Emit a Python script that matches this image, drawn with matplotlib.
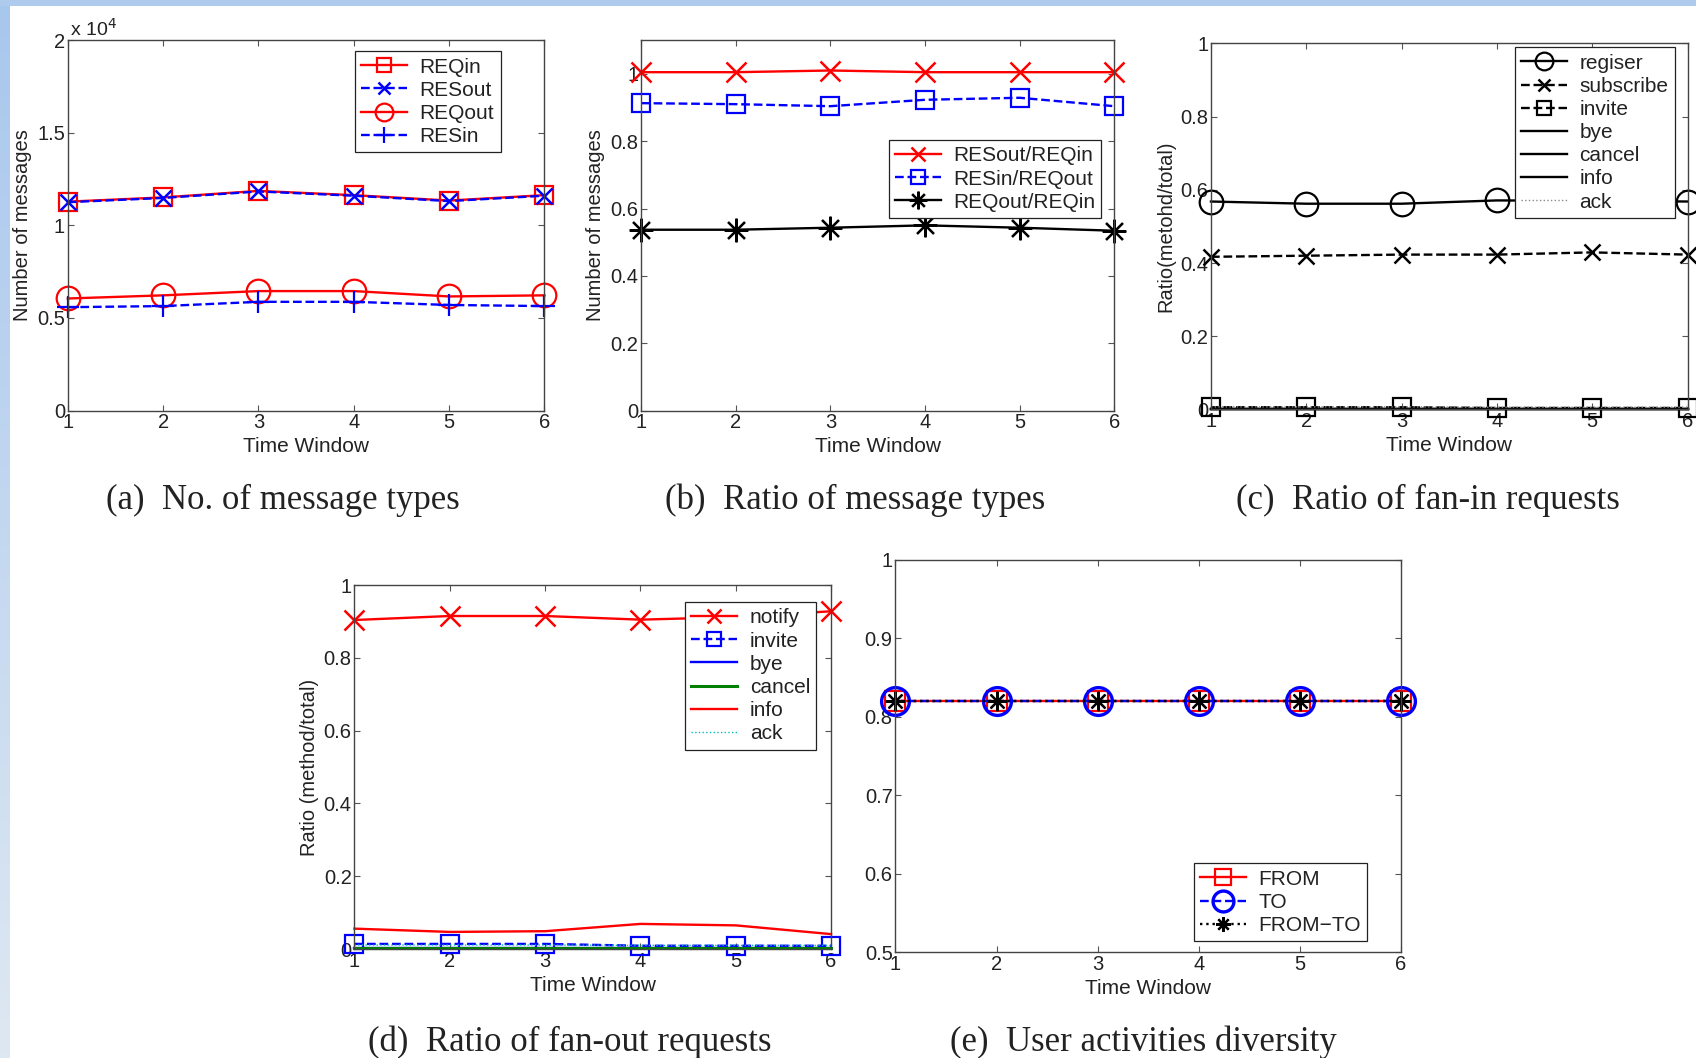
import numpy as np
import matplotlib
matplotlib.use("Agg")
import matplotlib.pyplot as plt
from matplotlib.ticker import FuncFormatter

plt.rcParams["font.family"] = ["Liberation Sans", "DejaVu Sans"]

windows = [1, 2, 3, 4, 5, 6]

# (a) number of message types (counts)
req_in = [11280, 11510, 11860, 11630, 11340, 11630]
res_out = [11250, 11480, 11830, 11600, 11310, 11600]
req_out = [6050, 6220, 6450, 6450, 6160, 6220]
res_in = [5580, 5640, 5870, 5870, 5700, 5640]

# (b) ratio of message types
resout_reqin = [1.005, 1.005, 1.01, 1.005, 1.005, 1.005]
resin_reqout = [0.913, 0.910, 0.904, 0.923, 0.929, 0.904]
reqout_reqin = [0.537, 0.537, 0.543, 0.550, 0.543, 0.534]

# (c) ratio of fan-in requests
fin_register = [0.568, 0.562, 0.562, 0.571, 0.570, 0.568]
fin_subscribe = [0.417, 0.420, 0.423, 0.423, 0.429, 0.423]
fin_invite = [0.006, 0.006, 0.006, 0.004, 0.004, 0.004]
fin_bye = [0.002, 0.002, 0.002, 0.002, 0.002, 0.002]
fin_cancel = [0.001, 0.001, 0.001, 0.001, 0.001, 0.001]
fin_info = [0.002, 0.002, 0.002, 0.002, 0.002, 0.002]
fin_ack = [0.007, 0.007, 0.007, 0.006, 0.006, 0.006]

# (d) ratio of fan-out requests
fout_notify = [0.904, 0.915, 0.915, 0.905, 0.912, 0.928]
fout_invite = [0.014, 0.014, 0.014, 0.009, 0.009, 0.009]
fout_bye = [0.004, 0.004, 0.004, 0.004, 0.004, 0.004]
fout_cancel = [0.002, 0.002, 0.002, 0.002, 0.002, 0.002]
fout_info = [0.056, 0.047, 0.049, 0.069, 0.065, 0.041]
fout_ack = [0.011, 0.011, 0.011, 0.010, 0.010, 0.010]

# (e) user activities diversity
div_from = [0.82, 0.82, 0.82, 0.82, 0.82, 0.82]
div_to = [0.82, 0.82, 0.82, 0.82, 0.82, 0.82]
div_from_to = [0.82, 0.82, 0.82, 0.82, 0.82, 0.82]

RED = "#ff0000"
BLUE = "#0000ff"
GREEN = "#008000"
CYAN = "#00bfbf"
ASTERISK = (8, 2, 0)

fig = plt.figure(figsize=(16.96, 10.58), dpi=100)

# slide background strips
bg = fig.add_axes([0, 0, 1, 1], zorder=-10)
bg.set_xlim(0, 1696)
bg.set_ylim(1058, 0)
bg.axis("off")
grad = np.linspace(0, 1, 256).reshape(-1, 1)
top_c = np.array([0.66, 0.78, 0.93])
bot_c = np.array([0.87, 0.91, 0.95])
strip = top_c[None, None, :] * (1 - grad[:, :, None]) + bot_c[None, None, :] * grad[:, :, None]
bg.imshow(strip, extent=(0, 10, 1058, 0), aspect="auto")
bg.fill_between([0, 1696], 0, 6, color="#aecbee", lw=0)


def style_axes(ax, xlabel="Time Window", ylabel=None):
    ax.set_xlim(1, 6)
    ax.set_xticks(windows)
    ax.tick_params(direction="in", top=True, right=True, length=4,
                   labelsize=14.5, pad=2, color="#555555", labelcolor="#222222")
    for s in ax.spines.values():
        s.set_color("#444444")
        s.set_linewidth(1.0)
    ax.set_xlabel(xlabel, fontsize=15, labelpad=3.5, color="#222222")
    if ylabel:
        ax.set_ylabel(ylabel, fontsize=14.5, labelpad=3.5, color="#222222")


def legend(ax, loc, anchor):
    leg = ax.legend(loc=loc, bbox_to_anchor=anchor, fancybox=False,
                    edgecolor="#222222", framealpha=1, fontsize=15,
                    handlelength=2.2, labelspacing=0.2, borderpad=0.3,
                    handletextpad=0.6, borderaxespad=0, markerscale=0.75)
    leg.get_frame().set_linewidth(0.9)
    for t in leg.get_texts():
        t.set_color("#222222")
    return leg


def caption(x, y, text):
    fig.text(x, y, text, ha="center", va="center", fontsize=25,
             family=["Liberation Serif", "DejaVu Serif"], color="#222222")


# (a)
ax = fig.add_axes([0.040, 0.612, 0.281, 0.350])
kw = dict(lw=1.7, clip_on=False)
ax.plot(windows, req_in, "-s", color=RED, ms=13, mfc="none", mew=1.6, label="REQin", **kw)
ax.plot(windows, res_out, "--x", color=BLUE, ms=12, mew=1.8, label="RESout", **kw)
ax.plot(windows, req_out, "-o", color=RED, ms=17, mfc="none", mew=1.6, label="REQout", **kw)
ax.plot(windows, res_in, "--+", color=BLUE, ms=16, mew=1.6, label="RESin", **kw)
ax.set_ylim(0, 20000)
ax.set_yticks([0, 5000, 10000, 15000, 20000])
ax.yaxis.set_major_formatter(FuncFormatter(lambda v, p: f"{v / 1e4:g}"))
ax.text(0.005, 1.0, r"x 10$^4$", transform=ax.transAxes, ha="left", va="bottom",
        fontsize=14, color="#222222")
style_axes(ax, ylabel="Number of messages")
legend(ax, "upper right", (0.908, 0.970))
caption(0.167, 0.527, "(a)  No. of message types")

# (b)
ax = fig.add_axes([0.378, 0.612, 0.279, 0.350])
ax.plot(windows, resout_reqin, "-x", color=RED, ms=14, mew=1.8, label="RESout/REQin", **kw)
ax.plot(windows, resin_reqout, "--s", color=BLUE, ms=13, mfc="none", mew=1.6, label="RESin/REQout", **kw)
ax.plot(windows, reqout_reqin, "-", marker=ASTERISK, color="black", ms=17, mew=1.6,
        label="REQout/REQin", **kw)
ax.set_ylim(0, 1.1)
ax.set_yticks([0, 0.2, 0.4, 0.6, 0.8, 1.0])
ax.yaxis.set_major_formatter(FuncFormatter(lambda v, p: f"{v:g}"))
style_axes(ax, ylabel="Number of messages")
legend(ax, "upper right", (0.973, 0.730))
caption(0.504, 0.527, "(b)  Ratio of message types")

# (c)
ax = fig.add_axes([0.714, 0.613, 0.281, 0.346])
ax.plot(windows, fin_register, "-o", color="black", ms=17, mfc="none", mew=1.6, label="regiser", **kw)
ax.plot(windows, fin_subscribe, "--x", color="black", ms=12, mew=1.8, label="subscribe", **kw)
ax.plot(windows, fin_invite, "--s", color="black", ms=13, mfc="none", mew=1.6, label="invite", **kw)
ax.plot(windows, fin_bye, "-", color="black", label="bye", **kw)
ax.plot(windows, fin_cancel, "-", color="black", label="cancel", **kw)
ax.plot(windows, fin_info, "-", color="black", label="info", **kw)
ax.plot(windows, fin_ack, ":", color="#888888", lw=1.0, clip_on=False, label="ack")
ax.set_ylim(0, 1)
ax.set_yticks([0, 0.2, 0.4, 0.6, 0.8, 1.0])
ax.yaxis.set_major_formatter(FuncFormatter(lambda v, p: f"{v:g}"))
style_axes(ax, ylabel="Ratio(metohd/total)")
legend(ax, "upper right", (0.973, 0.989))
caption(0.842, 0.527, "(c)  Ratio of fan-in requests")

# (d)
ax = fig.add_axes([0.209, 0.103, 0.281, 0.344])
ax.plot(windows, fout_notify, "-x", color=RED, ms=14, mew=1.8, label="notify", **kw)
ax.plot(windows, fout_invite, "--s", color=BLUE, ms=13, mfc="none", mew=1.6, label="invite", **kw)
ax.plot(windows, fout_bye, "-", color=BLUE, label="bye", **kw)
ax.plot(windows, fout_cancel, "-", color=GREEN, lw=2.2, clip_on=False, label="cancel")
ax.plot(windows, fout_info, "-", color=RED, label="info", **kw)
ax.plot(windows, fout_ack, ":", color=CYAN, lw=1.0, clip_on=False, label="ack")
ax.set_ylim(0, 1)
ax.set_yticks([0, 0.2, 0.4, 0.6, 0.8, 1.0])
ax.yaxis.set_major_formatter(FuncFormatter(lambda v, p: f"{v:g}"))
style_axes(ax, ylabel="Ratio (method/total)")
legend(ax, "upper right", (0.969, 0.953))
caption(0.336, 0.015, "(d)  Ratio of fan-out requests")

# (e)
ax = fig.add_axes([0.528, 0.100, 0.298, 0.371])
ax.plot(windows, div_from, "-s", color=RED, ms=15, mfc="none", mew=1.6, label="FROM", **kw)
ax.plot(windows, div_to, "--o", color=BLUE, ms=20, mfc="none", mew=2.4, label="TO", **kw)
ax.plot(windows, div_from_to, ":", marker=ASTERISK, color="black", ms=14, mew=1.6,
        label="FROM\u2212TO", **kw)
ax.set_ylim(0.5, 1)
ax.set_yticks([0.5, 0.6, 0.7, 0.8, 0.9, 1.0])
ax.yaxis.set_major_formatter(FuncFormatter(lambda v, p: f"{v:g}"))
style_axes(ax)
leg = legend(ax, "lower right", (0.933, 0.028))
caption(0.674, 0.015, "(e)  User activities diversity")

fig.savefig("out.png", dpi=100)
